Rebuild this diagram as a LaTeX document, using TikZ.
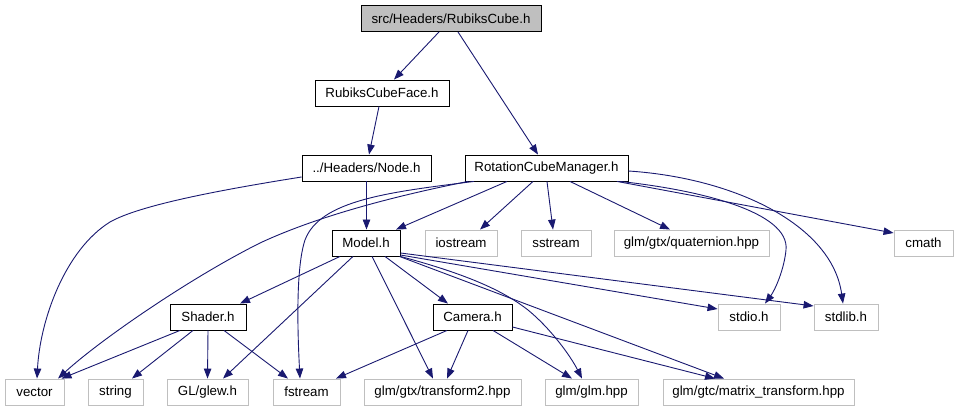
\documentclass[tikz,border=0pt]{standalone}
\usepackage{fontspec}
\setmainfont{Liberation Sans}
\usetikzlibrary{arrows.meta}
\definecolor{edgeblue}{HTML}{191970}
\definecolor{greyline}{HTML}{BFBFBF}
\tikzset{
  hfile/.style={draw=black, line width=0.9pt, minimum height=26pt, inner sep=0pt},
  sysfile/.style={draw=greyline, line width=0.9pt, minimum height=26pt, inner sep=0pt},
  rootfile/.style={hfile, fill=greyline},
  dep/.style={draw=edgeblue, line width=0.9pt, -{Triangle[length=10pt,width=7.5pt]}}
}
\begin{document}
\begin{tikzpicture}[x=1pt, y=-1pt, font=\fontsize{13.3}{16}\selectfont]
  \useasboundingbox (0,0) rectangle (959,411);
  % documented headers
  \node[rootfile, minimum width=180pt] (cube) at (451,18.5) {src/Headers/RubiksCube.h};
  \node[hfile, minimum width=134pt] (face) at (382,93) {RubiksCubeFace.h};
  \node[hfile, minimum width=129pt] (nodeh) at (366.5,168) {../Headers/Node.h};
  \node[hfile, minimum width=163pt] (rcm) at (546.5,168) {RotationCubeManager.h};
  \node[hfile, minimum width=68pt] (model) at (366,243) {Model.h};
  \node[hfile, minimum width=76pt] (shader) at (208,317) {Shader.h};
  \node[hfile, minimum width=79pt] (camera) at (472.5,317) {Camera.h};
  % system headers
  \node[sysfile, minimum width=72pt] (iostream) at (461,243) {iostream};
  \node[sysfile, minimum width=70pt] (sstream) at (556,243) {sstream};
  \node[sysfile, minimum width=155pt] (quat) at (691.5,243) {glm/gtx/quaternion.hpp};
  \node[sysfile, minimum width=59pt] (cmath) at (923.5,243) {cmath};
  \node[sysfile, minimum width=62pt] (stdio) at (749,317) {stdio.h};
  \node[sysfile, minimum width=64pt] (stdlib) at (846,317) {stdlib.h};
  \node[sysfile, minimum width=59pt] (vector) at (34.5,392) {vector};
  \node[sysfile, minimum width=55pt] (string) at (115.5,392) {string};
  \node[sysfile, minimum width=81pt] (glew) at (207.5,392) {GL/glew.h};
  \node[sysfile, minimum width=67pt] (fstream) at (306.5,392) {fstream};
  \node[sysfile, minimum width=157pt] (trans2) at (442.5,392) {glm/gtx/transform2.hpp};
  \node[sysfile, minimum width=93pt] (glm) at (591.5,392) {glm/glm.hpp};
  \node[sysfile, minimum width=191pt] (matrix) at (758.5,392) {glm/gtc/matrix\_transform.hpp};
  % RubiksCube.h, RubiksCubeFace.h, Node.h
  \draw[dep] ([xshift=-12pt]cube.south) -- ([xshift=12pt]face.north);
  \draw[dep] ([xshift=7pt]cube.south) -- ([xshift=-8.5pt]rcm.north);
  \draw[dep] ([xshift=-3pt]face.south) -- ([xshift=2.5pt]nodeh.north);
  \draw[dep] ([yshift=-9pt]nodeh.west) .. controls (220,190) and (140,205) .. (110,222)
    .. controls (65,250) and (40,320) .. ([xshift=2.5pt]vector.north);
  \draw[dep] (nodeh.south) -- ([xshift=0.5pt]model.north);
  % RotationCubeManager.h
  \draw[dep] ([xshift=-39.5pt]rcm.south) -- ([xshift=30pt]model.north);
  \draw[dep] ([xshift=-78.5pt]rcm.south) .. controls (400,195) and (320,215) .. (260,243)
    .. controls (190,278) and (100,340) .. ([xshift=23.5pt]vector.north);
  \draw[dep] ([xshift=-72.5pt]rcm.south) .. controls (390,192) and (320,200) .. (305,240)
    .. controls (295,270) and (298,340) .. ([xshift=-6.5pt]fstream.north);
  \draw[dep] ([xshift=-13.5pt]rcm.south) -- ([xshift=19pt]iostream.north);
  \draw[dep] ([xshift=0.5pt]rcm.south) -- ([xshift=-3pt]sstream.north);
  \draw[dep] ([xshift=23.5pt]rcm.south) -- ([xshift=-21.5pt]quat.north);
  \draw[dep] ([xshift=70.5pt]rcm.south) -- ([yshift=10pt]cmath.west);
  \draw[dep] ([xshift=73.5pt]rcm.south) .. controls (700,190) and (790,212) .. (786,250)
    .. controls (784,270) and (775,290) .. ([xshift=16pt]stdio.north);
  \draw[dep] ([yshift=-3pt]rcm.east) .. controls (735,178) and (832,225) .. ([xshift=-3pt]stdlib.north);
  % Model.h
  \draw[dep] ([xshift=-26pt]model.south) -- ([xshift=32pt]shader.north);
  \draw[dep] ([xshift=-13pt]model.south) -- ([xshift=15.5pt]glew.north);
  \draw[dep] ([xshift=6pt]model.south) -- ([xshift=-9.5pt]trans2.north);
  \draw[dep] ([xshift=19pt]model.south) -- ([xshift=-24.5pt]camera.north);
  \draw[dep] ([yshift=-12pt]model.east) -- ([yshift=8pt]stdio.west);
  \draw[dep] ([yshift=-10pt]model.east) -- ([yshift=11pt]stdlib.west);
  \draw[dep] (model.south east) .. controls (470,275) and (505,292) .. (528,310)
    .. controls (550,328) and (570,355) .. ([xshift=-9.5pt]glm.north);
  \draw[dep] ([xshift=-1pt]model.south east) -- ([xshift=-34.5pt]matrix.north);
  % Shader.h
  \draw[dep] ([xshift=-28pt]shader.south) -- ([xshift=27pt]vector.north);
  \draw[dep] ([xshift=-15pt]shader.south) -- ([xshift=16.5pt]string.north);
  \draw[dep] (shader.south) -- (glew.north);
  \draw[dep] ([xshift=16pt]shader.south) -- ([xshift=-18.5pt]fstream.north);
  % Camera.h
  \draw[dep] ([xshift=-25.5pt]camera.south) -- ([xshift=29.5pt]fstream.north);
  \draw[dep] ([xshift=-4.5pt]camera.south) -- ([xshift=4.5pt]trans2.north);
  \draw[dep] ([xshift=20.5pt]camera.south) -- ([xshift=-19.5pt]glm.north);
  \draw[dep] ([yshift=-10pt]camera.east) -- ([xshift=-43.5pt]matrix.north);
\end{tikzpicture}
\end{document}
